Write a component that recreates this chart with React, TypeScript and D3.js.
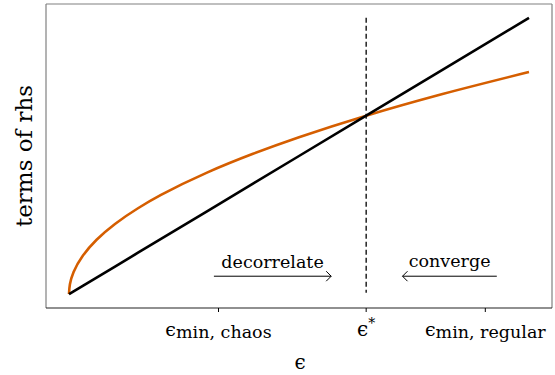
import React from "react";
import * as d3 from "d3";

// black line: identity term, orange: sqrt-like term
const epsGrid = [0, 0.002, 0.01, 0.03, 0.06, 0.1, 0.15, 0.2, 0.3, 0.4, 0.5, 0.646, 0.8, 1.0];
const linearTerm = [0, 0.002, 0.01, 0.03, 0.06, 0.1, 0.15, 0.2, 0.3, 0.4, 0.5, 0.646, 0.8, 1.0];
const rootTerm = [0, 0.036, 0.08, 0.139, 0.197, 0.254, 0.311, 0.359, 0.44, 0.508, 0.568, 0.646, 0.719, 0.804];

const tickValues = [0.325, 0.646, 0.905];
const tickNames = ["chaos", "star", "regular"];
const epsStar = 0.646;
const dashSpan = [1.0, 0.005];
const arrowLeft = [0.315, 0.57];
const arrowRight = [0.93, 0.725];
const arrowLevel = 0.065;

const W = 555;
const H = 375;
const serif = "'DejaVu Serif', 'Liberation Serif', serif";

function TickLabel({ name, x, y }: { name: string; x: number; y: number }) {
  if (name === "star") {
    return (
      <text x={x} y={y} textAnchor="middle" fontFamily={serif} fontSize={20}>
        ϵ<tspan dy={-8} fontSize={14}>*</tspan>
      </text>
    );
  }
  return (
    <text x={x} y={y} textAnchor="middle" fontFamily={serif} fontSize={19}>
      ϵ<tspan dy={2} fontSize={17.5}>{"min, " + name}</tspan>
    </text>
  );
}

export default function App() {
  const x = d3.scaleLinear().domain([-0.05, 1.05]).range([46, 552]);
  const y = d3.scaleLinear().domain([-0.05, 1.05]).range([308, 4]);

  const pts = epsGrid.map((e, i) => ({ e, a: linearTerm[i], b: rootTerm[i] }));
  const lineA = d3.line<any>().x((d) => x(d.e)).y((d) => y(d.a));
  const lineB = d3
    .line<any>()
    .x((d) => x(d.e))
    .y((d) => y(d.b))
    .curve(d3.curveMonotoneY);

  const ay = y(arrowLevel);

  return (
    <svg width={W} height={H} style={{ position: "absolute", left: 0, top: 0 }}>
      <rect width={W} height={H} fill="white" />
      <path d={lineB(pts) || ""} fill="none" stroke="#d55e00" strokeWidth={2.6} />
      <path d={lineA(pts) || ""} fill="none" stroke="black" strokeWidth={2.6} />
      <line
        x1={x(epsStar)}
        x2={x(epsStar)}
        y1={y(dashSpan[0])}
        y2={y(dashSpan[1])}
        stroke="black"
        strokeWidth={1.3}
        strokeDasharray="5,3"
      />

      {/* arrows */}
      <g stroke="black" strokeWidth={1} fill="none">
        <line x1={x(arrowLeft[0])} x2={x(arrowLeft[1])} y1={ay} y2={ay} />
        <path d={`M${x(arrowLeft[1]) - 5},${ay - 5} L${x(arrowLeft[1])},${ay} L${x(arrowLeft[1]) - 5},${ay + 5}`} />
        <line x1={x(arrowRight[0])} x2={x(arrowRight[1])} y1={ay} y2={ay} />
        <path d={`M${x(arrowRight[1]) + 5},${ay - 5} L${x(arrowRight[1])},${ay} L${x(arrowRight[1]) + 5},${ay + 5}`} />
      </g>
      <text x={(x(arrowLeft[0]) + x(arrowLeft[1])) / 2} y={ay - 8} textAnchor="middle" fontFamily={serif} fontSize={17.5}>
        decorrelate
      </text>
      <text x={(x(arrowRight[0]) + x(arrowRight[1])) / 2} y={ay - 9} textAnchor="middle" fontFamily={serif} fontSize={17.5}>
        converge
      </text>

      {/* frame */}
      <line x1={46} x2={46} y1={4} y2={308} stroke="#808080" strokeWidth={1.2} />
      <line x1={46} x2={552} y1={4} y2={4} stroke="#808080" strokeWidth={1.2} />
      <line x1={552} x2={552} y1={4} y2={308} stroke="#808080" strokeWidth={1.2} />
      <line x1={46} x2={552} y1={308} y2={308} stroke="#222" strokeWidth={1.2} />

      {tickValues.map((t, i) => (
        <g key={i}>
          <line x1={x(t)} x2={x(t)} y1={308} y2={312} stroke="black" strokeWidth={1} />
          <TickLabel name={tickNames[i]} x={x(t)} y={336} />
        </g>
      ))}

      <text x={300} y={369} textAnchor="middle" fontFamily={serif} fontSize={20}>
        ϵ
      </text>
      <text
        transform={`translate(32,156) rotate(-90)`}
        textAnchor="middle"
        fontFamily={serif}
        fontSize={23}
      >
        terms of rhs
      </text>
    </svg>
  );
}
